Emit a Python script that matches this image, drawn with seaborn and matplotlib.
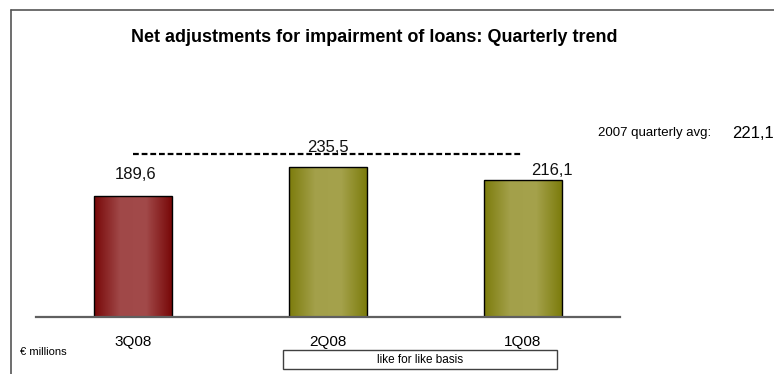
import numpy as np
import pandas as pd
import seaborn as sns
from matplotlib import pyplot as plt
from matplotlib.colors import LinearSegmentedColormap
from matplotlib.lines import Line2D
from matplotlib.patches import Rectangle
import matplotlib.transforms as mtransforms

# data
quarters = ["3Q08", "2Q08", "1Q08"]
values = [189.6, 235.5, 216.1]
value_labels = ["189,6", "235,5", "216,1"]
avg_2007 = "221,1"
title = "Net adjustments for impairment of loans: Quarterly trend"

sns.set_theme(style="white")
plt.rcParams['font.family'] = ['Liberation Sans', 'DejaVu Sans']
plt.rcParams['text.color'] = 'black'

W, H = 774, 374
fig = plt.figure(figsize=(W / 100, H / 100), dpi=100)

# axes placed in pixel terms: baseline y=317, x from 36 to 620
ax = fig.add_axes([36 / W, 57 / H, 584 / W, 257 / H])

df = pd.DataFrame({"quarter": quarters, "value": values})
sns.barplot(data=df, x="quarter", y="value", hue="quarter", palette=["#8a2020", "#8f8c25", "#8f8c25"],
            width=0.4, edgecolor="black", linewidth=1, legend=False, ax=ax)

# gradient fill for the bars
red_cmap = LinearSegmentedColormap.from_list("r", ["#780808", "#a04848", "#a24a4a", "#780808"])
olive_cmap = LinearSegmentedColormap.from_list("o", ["#7c7c0c", "#a3a04a", "#a5a24c", "#7c7c0c"])
grad = np.linspace(0, 1, 256).reshape(1, -1)
for i, bar in enumerate(ax.patches):
    cmap = red_cmap if i == 0 else olive_cmap
    x0, y0 = bar.get_x(), bar.get_y()
    w, h = bar.get_width(), bar.get_height()
    im = ax.imshow(grad, cmap=cmap, aspect="auto", extent=(x0, x0 + w, y0, y0 + h), zorder=bar.get_zorder())
    im.set_clip_path(bar)
    bar.set_facecolor("none")
    bar.set_zorder(bar.get_zorder() + 0.5)
ax.set_xlim(-0.5, 2.5)
ax.set_ylim(0, 404)

# value labels (offsets in pixels as in the original slide)
label_dx = [2, 0, 29]
label_dy = [22, 20, 9]
for i, (v, lab) in enumerate(zip(values, value_labels)):
    ax.annotate(lab, (i, v), xytext=(label_dx[i] * 0.72, label_dy[i] * 0.72), textcoords="offset points",
                ha="center", va="center", fontsize=12, color="#111111")

# dashed reference line (drawn across the bar centres)
ax.plot([0, 2], [256, 256], linestyle=(0, (2.6, 1.3)), color="black", linewidth=1.6, clip_on=False)

# axis styling
sns.despine(ax=ax, left=True, top=True, right=True)
ax.spines["bottom"].set_color("#606060")
ax.spines["bottom"].set_linewidth(1.6)
ax.set_yticks([])
ax.set_xlabel("")
ax.set_ylabel("")
ax.tick_params(axis="x", length=0, pad=13, labelsize=11, labelcolor="black")
ax.patch.set_alpha(0)

# figure-level texts
fig.text(374 / W, 1 - 37 / H, title, ha="center", va="center", fontsize=13, fontweight="bold")
fig.text(598 / W, 1 - 133 / H, "2007 quarterly avg:", ha="left", va="center", fontsize=9.5)
fig.text(732 / W, 1 - 133 / H, avg_2007, ha="left", va="center", fontsize=12)
fig.text(20 / W, 1 - 352 / H, "€ millions", ha="left", va="center", fontsize=8)

# "like for like basis" box
trans = mtransforms.blended_transform_factory(ax.transData, fig.transFigure)
ax.add_patch(Rectangle((0.77, 1 - 369 / H), 1.405, 19 / H, transform=trans, fill=False,
                       edgecolor="#404040", linewidth=1, clip_on=False))
fig.text(420 / W, 1 - 360 / H, "like for like basis", ha="center", va="center", fontsize=8.5)

# slide border (left and top only visible)
fig.add_artist(Line2D([11 / W, 11 / W], [0, 1 - 10 / H], color="#555555", linewidth=1.2))
fig.add_artist(Line2D([11 / W, 1], [1 - 10 / H, 1 - 10 / H], color="#555555", linewidth=1.2))

plt.savefig("out.png", dpi=100)
